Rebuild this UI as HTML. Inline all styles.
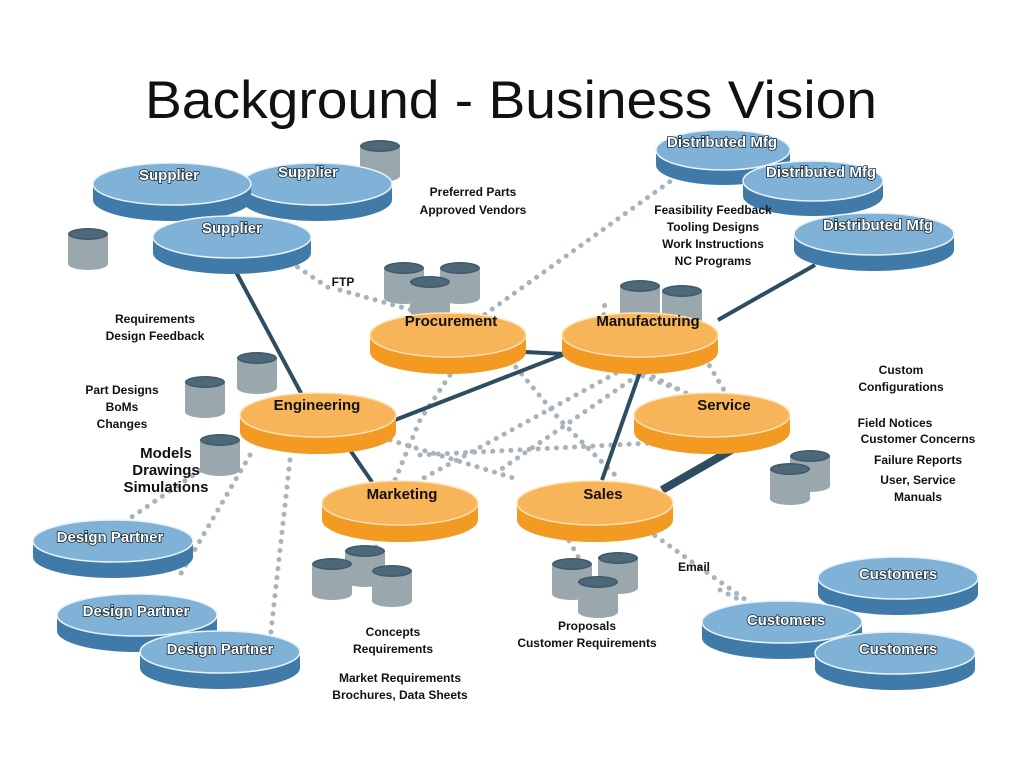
<!DOCTYPE html>
<html><head><meta charset="utf-8"><style>
html,body{margin:0;padding:0;background:#fff;}
svg{display:block;}
.t{font-family:"Liberation Sans",sans-serif;font-size:12px;font-weight:bold;fill:#111;text-anchor:middle;}
.dl{font-family:"Liberation Sans",sans-serif;font-size:15px;font-weight:bold;fill:#fff;stroke:#1a2a36;stroke-width:1.6;paint-order:stroke;text-anchor:middle;}
.ol{font-family:"Liberation Sans",sans-serif;font-size:15px;font-weight:bold;fill:#111;text-anchor:middle;}
.dot{stroke:#a9b3bb;stroke-width:5;stroke-dasharray:0.1 9;stroke-linecap:round;fill:none;}
.sol{stroke:#2f4d61;stroke-width:4;fill:none;}
</style></head><body>
<svg width="1024" height="768" viewBox="0 0 1024 768" xmlns="http://www.w3.org/2000/svg">
<defs>
<g id="cyl">
<path d="M0,6 v30 a20,6 0 0 0 40,0 v-30 z" fill="#9aa7ad"/>
<ellipse cx="20" cy="6" rx="20" ry="6" fill="#3f5a6b"/>
<ellipse cx="20" cy="6" rx="18" ry="4.5" fill="#4d6878"/>
</g>
</defs>
<text x="511" y="118" font-family="'Liberation Sans',sans-serif" font-size="53" fill="#111" text-anchor="middle" textLength="732" lengthAdjust="spacingAndGlyphs">Background - Business Vision</text>

<g class="dot">
<path d="M470,325 L700,160"/>
<path d="M340,290 L440,318"/>
<path d="M290,262 L335,292"/>
<path d="M460,360 L420,420 L395,480"/>
<path d="M510,360 L560,420 L620,480"/>
<path d="M640,360 L420,480"/>
<path d="M660,360 L500,470"/>
<path d="M390,440 L520,480"/>
<path d="M420,455 L710,440"/>
<path d="M580,340 L700,400"/>
<path d="M700,350 L730,400"/>
<path d="M600,360 L680,390"/>
<path d="M250,455 L180,575"/>
<path d="M290,460 L270,640"/>
<path d="M230,450 L120,525"/>
<path d="M380,520 L375,555"/>
<path d="M560,525 L580,560"/>
<path d="M640,525 L760,610"/>
<path d="M720,590 L740,600"/>
<path d="M600,360 L605,300"/>
</g>
<g class="sol">
<path d="M235,270 L302,395"/>
<path d="M395,420 L570,352"/>
<path d="M525,352 L565,354"/>
<path d="M350,450 L372,482"/>
<path d="M640,372 L602,480"/>
<path d="M718,320 L815,265"/>
<path d="M662,490 L735,448" stroke-width="8"/>
</g>

<use href="#cyl" x="360" y="140"/>
<use href="#cyl" x="68" y="228"/>
<use href="#cyl" x="384" y="262"/>
<use href="#cyl" x="440" y="262"/>
<use href="#cyl" x="410" y="276"/>
<use href="#cyl" x="620" y="280"/>
<use href="#cyl" x="662" y="285"/>
<use href="#cyl" x="237" y="352"/>
<use href="#cyl" x="185" y="376"/>
<use href="#cyl" x="200" y="434"/>
<use href="#cyl" x="790" y="450"/>
<use href="#cyl" x="770" y="463"/>
<use href="#cyl" x="345" y="545"/>
<use href="#cyl" x="312" y="558"/>
<use href="#cyl" x="372" y="565"/>
<use href="#cyl" x="598" y="552"/>
<use href="#cyl" x="552" y="558"/>
<use href="#cyl" x="578" y="576"/>

<g>
<g transform="translate(723,150)"><path d="M-67,0 v15 a67,20 0 0 0 134,0 v-15 z" fill="#3f7aa8"/><ellipse rx="67" ry="20" fill="#7fb2d6" stroke="#e8f2fa" stroke-width="1.5"/></g>
<g transform="translate(813,181)"><path d="M-70,0 v15 a70,20 0 0 0 140,0 v-15 z" fill="#3f7aa8"/><ellipse rx="70" ry="20" fill="#7fb2d6" stroke="#e8f2fa" stroke-width="1.5"/></g>
<g transform="translate(874,234)"><path d="M-80,0 v16 a80,21 0 0 0 160,0 v-16 z" fill="#3f7aa8"/><ellipse rx="80" ry="21" fill="#7fb2d6" stroke="#e8f2fa" stroke-width="1.5"/></g>
<g transform="translate(317,184)"><path d="M-75,0 v16 a75,21 0 0 0 150,0 v-16 z" fill="#3f7aa8"/><ellipse rx="75" ry="21" fill="#7fb2d6" stroke="#e8f2fa" stroke-width="1.5"/></g>
<g transform="translate(172,184)"><path d="M-79,0 v16 a79,21 0 0 0 158,0 v-16 z" fill="#3f7aa8"/><ellipse rx="79" ry="21" fill="#7fb2d6" stroke="#e8f2fa" stroke-width="1.5"/></g>
<g transform="translate(232,237)"><path d="M-79,0 v16 a79,21 0 0 0 158,0 v-16 z" fill="#3f7aa8"/><ellipse rx="79" ry="21" fill="#7fb2d6" stroke="#e8f2fa" stroke-width="1.5"/></g>
<g transform="translate(113,541)"><path d="M-80,0 v16 a80,21 0 0 0 160,0 v-16 z" fill="#3f7aa8"/><ellipse rx="80" ry="21" fill="#7fb2d6" stroke="#e8f2fa" stroke-width="1.5"/></g>
<g transform="translate(137,615)"><path d="M-80,0 v16 a80,21 0 0 0 160,0 v-16 z" fill="#3f7aa8"/><ellipse rx="80" ry="21" fill="#7fb2d6" stroke="#e8f2fa" stroke-width="1.5"/></g>
<g transform="translate(220,652)"><path d="M-80,0 v16 a80,21 0 0 0 160,0 v-16 z" fill="#3f7aa8"/><ellipse rx="80" ry="21" fill="#7fb2d6" stroke="#e8f2fa" stroke-width="1.5"/></g>
<g transform="translate(898,578)"><path d="M-80,0 v16 a80,21 0 0 0 160,0 v-16 z" fill="#3f7aa8"/><ellipse rx="80" ry="21" fill="#7fb2d6" stroke="#e8f2fa" stroke-width="1.5"/></g>
<g transform="translate(782,622)"><path d="M-80,0 v16 a80,21 0 0 0 160,0 v-16 z" fill="#3f7aa8"/><ellipse rx="80" ry="21" fill="#7fb2d6" stroke="#e8f2fa" stroke-width="1.5"/></g>
<g transform="translate(895,653)"><path d="M-80,0 v16 a80,21 0 0 0 160,0 v-16 z" fill="#3f7aa8"/><ellipse rx="80" ry="21" fill="#7fb2d6" stroke="#e8f2fa" stroke-width="1.5"/></g>
</g>

<g>
<g transform="translate(448,335)"><path d="M-78,0 v17 a78,22 0 0 0 156,0 v-17 z" fill="#f39a22"/><ellipse rx="78" ry="22" fill="#f8b458" stroke="#fde2b8" stroke-width="1.5"/></g>
<g transform="translate(640,335)"><path d="M-78,0 v17 a78,22 0 0 0 156,0 v-17 z" fill="#f39a22"/><ellipse rx="78" ry="22" fill="#f8b458" stroke="#fde2b8" stroke-width="1.5"/></g>
<g transform="translate(318,415)"><path d="M-78,0 v17 a78,22 0 0 0 156,0 v-17 z" fill="#f39a22"/><ellipse rx="78" ry="22" fill="#f8b458" stroke="#fde2b8" stroke-width="1.5"/></g>
<g transform="translate(712,415)"><path d="M-78,0 v17 a78,22 0 0 0 156,0 v-17 z" fill="#f39a22"/><ellipse rx="78" ry="22" fill="#f8b458" stroke="#fde2b8" stroke-width="1.5"/></g>
<g transform="translate(400,503)"><path d="M-78,0 v17 a78,22 0 0 0 156,0 v-17 z" fill="#f39a22"/><ellipse rx="78" ry="22" fill="#f8b458" stroke="#fde2b8" stroke-width="1.5"/></g>
<g transform="translate(595,503)"><path d="M-78,0 v17 a78,22 0 0 0 156,0 v-17 z" fill="#f39a22"/><ellipse rx="78" ry="22" fill="#f8b458" stroke="#fde2b8" stroke-width="1.5"/></g>
</g>

<text class="dl" x="169" y="180">Supplier</text>
<text class="dl" x="308" y="177">Supplier</text>
<text class="dl" x="232" y="233">Supplier</text>
<text class="dl" x="722" y="147">Distributed Mfg</text>
<text class="dl" x="821" y="177">Distributed Mfg</text>
<text class="dl" x="878" y="230">Distributed Mfg</text>
<text class="dl" x="110" y="542">Design Partner</text>
<text class="dl" x="136" y="616">Design Partner</text>
<text class="dl" x="220" y="654">Design Partner</text>
<text class="dl" x="898" y="579">Customers</text>
<text class="dl" x="786" y="625">Customers</text>
<text class="dl" x="898" y="654">Customers</text>
<text class="ol" x="451" y="326">Procurement</text>
<text class="ol" x="648" y="326">Manufacturing</text>
<text class="ol" x="317" y="410">Engineering</text>
<text class="ol" x="724" y="410">Service</text>
<text class="ol" x="402" y="499">Marketing</text>
<text class="ol" x="603" y="499">Sales</text>
<text class="ol" x="166" y="458" font-size="13" fill="#222">Models</text>
<text class="ol" x="166" y="475" font-size="13" fill="#222">Drawings</text>
<text class="ol" x="166" y="492" font-size="13" fill="#222">Simulations</text>

<text class="t" x="473" y="196">Preferred Parts</text>
<text class="t" x="473" y="214">Approved Vendors</text>
<text class="t" x="713" y="214">Feasibility Feedback</text>
<text class="t" x="713" y="231">Tooling Designs</text>
<text class="t" x="713" y="248">Work Instructions</text>
<text class="t" x="713" y="265">NC Programs</text>
<text class="t" x="343" y="286">FTP</text>
<text class="t" x="155" y="323">Requirements</text>
<text class="t" x="155" y="340">Design Feedback</text>
<text class="t" x="122" y="394">Part Designs</text>
<text class="t" x="122" y="411">BoMs</text>
<text class="t" x="122" y="428">Changes</text>
<text class="t" x="901" y="374">Custom</text>
<text class="t" x="901" y="391">Configurations</text>
<text class="t" x="895" y="427">Field Notices</text>
<text class="t" x="918" y="443">Customer Concerns</text>
<text class="t" x="918" y="464">Failure Reports</text>
<text class="t" x="918" y="484">User, Service</text>
<text class="t" x="918" y="501">Manuals</text>
<text class="t" x="694" y="571">Email</text>
<text class="t" x="587" y="630">Proposals</text>
<text class="t" x="587" y="647">Customer Requirements</text>
<text class="t" x="393" y="636">Concepts</text>
<text class="t" x="393" y="653">Requirements</text>
<text class="t" x="400" y="682">Market Requirements</text>
<text class="t" x="400" y="699">Brochures, Data Sheets</text>
</svg>
</body></html>
